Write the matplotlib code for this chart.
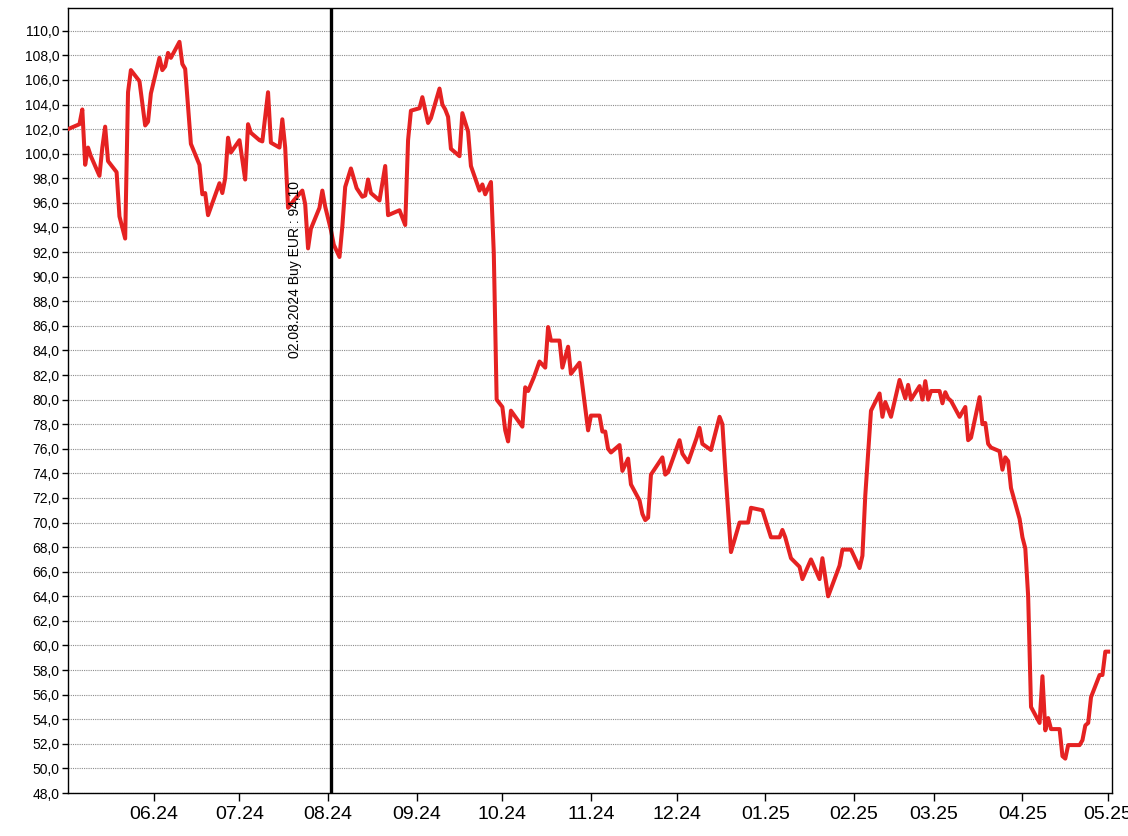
import matplotlib
matplotlib.use("Agg")
from matplotlib import pyplot as plt
import matplotlib.dates as mdates
from matplotlib.ticker import MultipleLocator, FuncFormatter
import pandas as pd

plt.rcParams['font.family'] = ['Liberation Sans', 'DejaVu Sans']

# daily closes (EUR)
dates = [
    "2024-05-02", "2024-05-06", "2024-05-07", "2024-05-08", "2024-05-09", "2024-05-10",
    "2024-05-13", "2024-05-14", "2024-05-15", "2024-05-16", "2024-05-19", "2024-05-20",
    "2024-05-22", "2024-05-23", "2024-05-24", "2024-05-27", "2024-05-29", "2024-05-30",
    "2024-05-31", "2024-06-03", "2024-06-04", "2024-06-05", "2024-06-06", "2024-06-07",
    "2024-06-10", "2024-06-11", "2024-06-12", "2024-06-13", "2024-06-14", "2024-06-17",
    "2024-06-18", "2024-06-19", "2024-06-20", "2024-06-24", "2024-06-25", "2024-06-26",
    "2024-06-27", "2024-06-28", "2024-07-01", "2024-07-03", "2024-07-04", "2024-07-05",
    "2024-07-08", "2024-07-09", "2024-07-11", "2024-07-12", "2024-07-15", "2024-07-16",
    "2024-07-17", "2024-07-18", "2024-07-20", "2024-07-23", "2024-07-24", "2024-07-25",
    "2024-07-26", "2024-07-29", "2024-07-30", "2024-07-31", "2024-08-02", "2024-08-03",
    "2024-08-05", "2024-08-06", "2024-08-07", "2024-08-09", "2024-08-11", "2024-08-13",
    "2024-08-14", "2024-08-15", "2024-08-16", "2024-08-19", "2024-08-21", "2024-08-22",
    "2024-08-26", "2024-08-28", "2024-08-29", "2024-08-30", "2024-09-02", "2024-09-03",
    "2024-09-05", "2024-09-06", "2024-09-09", "2024-09-10", "2024-09-11", "2024-09-12",
    "2024-09-13", "2024-09-16", "2024-09-17", "2024-09-19", "2024-09-20", "2024-09-23",
    "2024-09-24", "2024-09-25", "2024-09-27", "2024-09-28", "2024-09-29", "2024-10-01",
    "2024-10-02", "2024-10-03", "2024-10-04", "2024-10-08", "2024-10-09", "2024-10-10",
    "2024-10-12", "2024-10-14", "2024-10-16", "2024-10-17", "2024-10-18", "2024-10-21",
    "2024-10-22", "2024-10-24", "2024-10-25", "2024-10-28", "2024-10-31", "2024-11-01",
    "2024-11-04", "2024-11-05", "2024-11-06", "2024-11-07", "2024-11-08", "2024-11-11",
    "2024-11-12", "2024-11-14", "2024-11-15", "2024-11-18", "2024-11-19", "2024-11-20",
    "2024-11-21", "2024-11-22", "2024-11-26", "2024-11-27", "2024-11-28", "2024-12-02",
    "2024-12-03", "2024-12-05", "2024-12-08", "2024-12-09", "2024-12-10", "2024-12-13",
    "2024-12-16", "2024-12-17", "2024-12-18", "2024-12-20", "2024-12-23", "2024-12-26",
    "2024-12-27", "2024-12-31", "2025-01-03", "2025-01-06", "2025-01-07", "2025-01-08",
    "2025-01-10", "2025-01-13", "2025-01-14", "2025-01-17", "2025-01-20", "2025-01-21",
    "2025-01-23", "2025-01-27", "2025-01-28", "2025-01-31", "2025-02-03", "2025-02-04",
    "2025-02-05", "2025-02-07", "2025-02-10", "2025-02-11", "2025-02-12", "2025-02-14",
    "2025-02-17", "2025-02-19", "2025-02-20", "2025-02-21", "2025-02-24", "2025-02-25",
    "2025-02-26", "2025-02-27", "2025-02-28", "2025-03-03", "2025-03-04", "2025-03-05",
    "2025-03-06", "2025-03-07", "2025-03-10", "2025-03-12", "2025-03-13", "2025-03-14",
    "2025-03-17", "2025-03-18", "2025-03-19", "2025-03-20", "2025-03-21", "2025-03-24",
    "2025-03-25", "2025-03-26", "2025-03-27", "2025-03-28", "2025-03-31", "2025-04-01",
    "2025-04-02", "2025-04-03", "2025-04-04", "2025-04-07", "2025-04-08", "2025-04-09",
    "2025-04-10", "2025-04-11", "2025-04-14", "2025-04-15", "2025-04-16", "2025-04-17",
    "2025-04-21", "2025-04-22", "2025-04-23", "2025-04-24", "2025-04-25", "2025-04-28",
    "2025-04-29", "2025-04-30", "2025-05-01",
]
prices = [
    102.0, 102.4, 103.6, 99.1, 100.5, 99.8,
    98.2, 100.5, 102.2, 99.4, 98.5, 94.9,
    93.1, 105.0, 106.8, 105.9, 102.3, 102.6,
    104.9, 107.8, 106.8, 107.1, 108.2, 107.8,
    109.1, 107.3, 106.9, 103.9, 100.8, 99.1,
    96.7, 96.8, 95.0, 97.6, 96.8, 98.0,
    101.3, 100.1, 101.1, 97.9, 102.4, 101.7,
    101.1, 101.0, 105.0, 100.9, 100.5, 102.8,
    100.5, 95.6, 96.2, 97.0, 95.9, 92.3,
    93.9, 95.6, 97.0, 95.7, 93.8, 92.6,
    91.6, 94.1, 97.3, 98.8, 97.2, 96.5,
    96.6, 97.9, 96.8, 96.2, 99.0, 95.0,
    95.4, 94.2, 101.1, 103.5, 103.7, 104.6,
    102.5, 102.9, 105.3, 104.0, 103.6, 103.0,
    100.4, 99.8, 103.3, 101.8, 99.0, 97.0,
    97.5, 96.7, 97.7, 91.9, 80.0, 79.4,
    77.5, 76.6, 79.1, 77.8, 81.0, 80.7,
    81.8, 83.1, 82.6, 85.9, 84.8, 84.8,
    82.6, 84.3, 82.1, 83.0, 77.5, 78.7,
    78.7, 77.4, 77.4, 76.0, 75.7, 76.3,
    74.2, 75.2, 73.1, 71.8, 70.7, 70.2,
    70.4, 73.9, 75.3, 73.9, 74.1, 76.7,
    75.6, 74.9, 76.9, 77.7, 76.4, 75.9,
    78.6, 78.0, 74.3, 67.6, 70.0, 70.0,
    71.2, 71.0, 68.8, 68.8, 69.4, 68.8,
    67.1, 66.4, 65.4, 67.0, 65.4, 67.1,
    64.0, 66.5, 67.8, 67.8, 66.3, 67.3,
    72.2, 79.1, 80.5, 78.6, 79.8, 78.6,
    81.6, 80.1, 81.2, 80.0, 81.1, 80.0,
    81.5, 80.0, 80.7, 80.7, 79.7, 80.6,
    80.1, 79.9, 78.6, 79.4, 76.7, 76.9,
    80.2, 78.0, 78.1, 76.4, 76.1, 75.8,
    74.3, 75.3, 75.0, 72.8, 70.3, 68.8,
    67.9, 64.0, 55.0, 53.7, 57.5, 53.1,
    54.1, 53.2, 53.2, 51.0, 50.8, 51.9,
    51.9, 52.3, 53.5, 53.7, 55.8, 57.6,
    57.6, 59.5, 59.5,
]

buy_date = "2024-08-02"
buy_label = "02.08.2024 Buy EUR : 94,10"

x = pd.to_datetime(dates)

fig = plt.figure(figsize=(11.28, 8.36), dpi=100)
ax = fig.add_axes([0.0603, 0.0514, 0.9255, 0.939])

ax.plot(x, prices, color="#e52222", linewidth=2.9, zorder=3)
ax.axvline(pd.Timestamp(buy_date), color="black", linewidth=2.4, zorder=4)
ax.text(pd.Timestamp(buy_date) - pd.Timedelta(days=12.5), 90.6, buy_label,
        rotation=90, ha="center", va="center", fontsize=10, zorder=5)

ax.set_xlim(pd.Timestamp("2024-05-02"), pd.Timestamp("2025-05-02 08:00"))
ax.set_ylim(48, 111.85)

ax.yaxis.set_major_locator(MultipleLocator(2))
ax.yaxis.set_major_formatter(FuncFormatter(lambda v, p: f"{v:.1f}".replace(".", ",")))
ax.xaxis.set_major_locator(mdates.MonthLocator(bymonthday=1))
ax.xaxis.set_major_formatter(mdates.DateFormatter("%m.%y"))

ax.yaxis.grid(True, which="major", linestyle=(0, (1, 1)), color="#8c8c8c", linewidth=0.8)
ax.set_axisbelow(True)

ax.tick_params(axis="y", labelsize=10, length=4, width=1, pad=2)
ax.tick_params(axis="x", labelsize=14, length=6, width=1, pad=3)
for s in ax.spines.values():
    s.set_linewidth(1)

fig.savefig("out.png", dpi=100)
